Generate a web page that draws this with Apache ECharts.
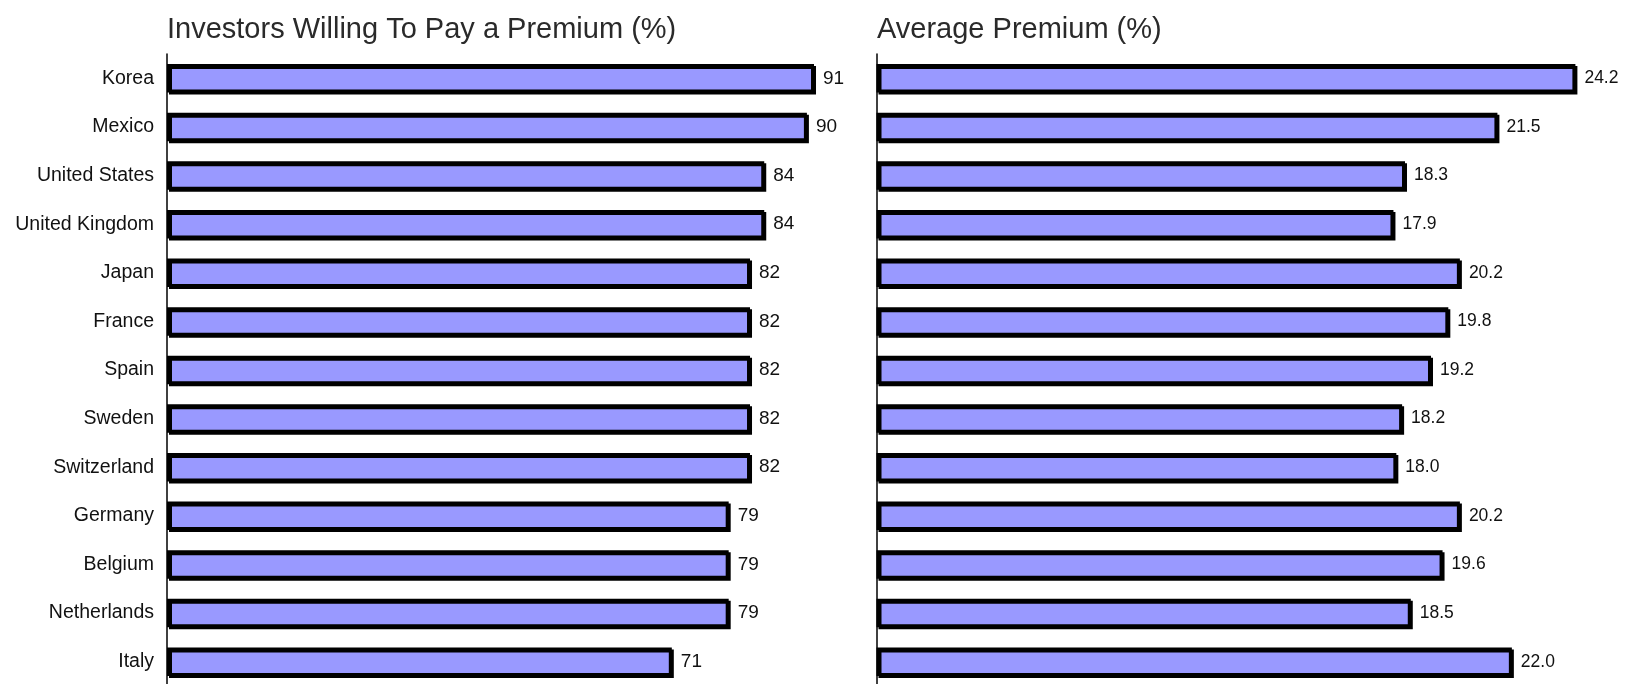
<!DOCTYPE html>
<html>
<head>
<meta charset="utf-8">
<script src="https://cdn.jsdelivr.net/npm/echarts@6/dist/echarts.min.js"></script>
<style>
html,body{margin:0;padding:0;background:#fff;}
#c{width:1628px;height:684px;}
</style>
</head>
<body>
<div id="c"></div>
<script>
var categories = ['Korea','Mexico','United States','United Kingdom','Japan','France','Spain','Sweden','Switzerland','Germany','Belgium','Netherlands','Italy'];
var willingPct = [91,90,84,84,82,82,82,82,82,79,79,79,71];
var avgPremium = [24.2,21.5,18.3,17.9,20.2,19.8,19.2,18.2,18.0,20.2,19.6,18.5,22.0];
var titles = ['Investors Willing To Pay a Premium (%)','Average Premium (%)'];

var sans = '"Liberation Sans",Arial,sans-serif';
var barStyle = {
  color: '#9999FF',
  borderColor: '#000',
  borderWidth: 3,
  shadowColor: '#000',
  shadowBlur: 0,
  shadowOffsetX: 2,
  shadowOffsetY: 2
};
var chart = echarts.init(document.getElementById('c'), null, {renderer: 'canvas'});
chart.setOption({
  animation: false,
  backgroundColor: '#fff',
  title: [
    {text: titles[0], left: 162, top: 10, textStyle: {fontFamily: sans, fontSize: 29, fontWeight: 'normal', color: '#2a2a2a'}},
    {text: titles[1], left: 872, top: 10, textStyle: {fontFamily: sans, fontSize: 29, fontWeight: 'normal', color: '#2a2a2a'}}
  ],
  grid: [
    {left: 167, top: 54, width: 711, height: 632, outerBoundsMode: 'none'},
    {left: 876.5, top: 54, width: 722, height: 632, outerBoundsMode: 'none'}
  ],
  xAxis: [
    {gridIndex: 0, type: 'value', min: 0, max: 100, show: false},
    {gridIndex: 1, type: 'value', min: 0, max: 25, show: false}
  ],
  yAxis: [
    {gridIndex: 0, type: 'category', data: categories, inverse: true,
     axisLine: {show: true, lineStyle: {color: '#000', width: 1.5}},
     axisTick: {show: false},
     axisLabel: {margin: 13, fontFamily: sans, fontSize: 19.5, color: '#111'}},
    {gridIndex: 1, type: 'category', data: categories, inverse: true,
     axisLine: {show: true, lineStyle: {color: '#000', width: 1.5}},
     axisTick: {show: false},
     axisLabel: {show: false}}
  ],
  series: [
    {type: 'bar', xAxisIndex: 0, yAxisIndex: 0, data: willingPct, barWidth: 28.5,
     itemStyle: barStyle,
     label: {show: true, position: 'right', distance: 9, fontFamily: sans, fontSize: 19, color: '#111'}},
    {type: 'bar', xAxisIndex: 1, yAxisIndex: 1, data: avgPremium, barWidth: 28.5,
     itemStyle: barStyle,
     label: {show: true, position: 'right', distance: 9, fontFamily: sans, fontSize: 17.5, color: '#111',
       formatter: function (p) { return p.value.toFixed(1); }}}
  ]
});
</script>
</body>
</html>
